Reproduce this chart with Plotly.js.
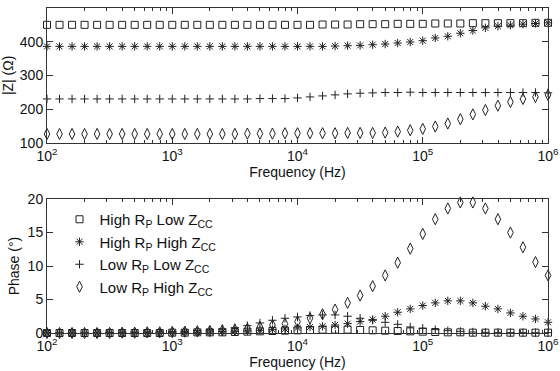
<!DOCTYPE html>
<html>
<head>
<meta charset="utf-8">
<script src="https://cdn.plot.ly/plotly-3.0.1.min.js"></script>
<style>html,body{margin:0;padding:0;background:#fff;}#chart{width:560px;height:371px;}</style>
</head>
<body>
<div id="chart"></div>
<script>
// Frequencies (Hz), 10 points per decade
const freq = [100, 125.9, 158.5, 199.5, 251.2, 316.2, 398.1, 501.2, 631.0, 794.3,
  1000, 1259, 1585, 1995, 2512, 3162, 3981, 5012, 6310, 7943,
  10000, 12589, 15849, 19953, 25119, 31623, 39811, 50119, 63096, 79433,
  100000, 125893, 158489, 199526, 251189, 316228, 398107, 501187, 630957, 794328,
  1000000];

const seriesNames = [
  'High R<sub>P</sub> Low Z<sub>CC</sub>',
  'High R<sub>P</sub> High Z<sub>CC</sub>',
  'Low R<sub>P</sub> Low Z<sub>CC</sub>',
  'Low R<sub>P</sub> High Z<sub>CC</sub>'
];

// |Z| (Ohm)
const magHighRpLowZ = [450,450,450,450,450,450,450,450,450,450,
  450,450,450,450,450,450,450,450,450,450,
  450,450,451,451,451,452,452,452,453,453,
  453,454,454,454,455,455,455,455,455,456,456];
const magHighRpHighZ = [386,386,386,386,386,386,386,386,386,386,
  386,386,386,386,386,386,386,386,386,386,
  386,386,386,387,388,389,391,393,396,399,
  403,411,416,425,433,441,446,449,452,454,456];
const magLowRpLowZ = [230,230,230,230,230,230,230,230,230,230,
  230,230,230,230,230,230,230,231,231,231,
  233,236,239,242,245,247,248,249,249,250,
  249,249,249,249,249,249,249,249,249,249,248];
const magLowRpHighZ = [126,126,126,126,126,126,126,126,126,126,
  126,126,126,126,126,126,127,127,127,128,
  128,128,128,128,129,129,129,130,133,137,
  141,148,157,170,184,197,210,221,230,236,242];

// Phase (deg)
const phHighRpLowZ = [0,0,0,0,0,0,0,0,0,0,
  0.05,0.05,0.1,0.1,0.1,0.15,0.2,0.25,0.3,0.35,
  0.4,0.45,0.5,0.5,0.5,0.45,0.4,0.35,0.3,0.25,
  0.2,0.15,0.1,0.1,0.05,0.05,0.05,0.05,0.05,0.05,0.05];
const phHighRpHighZ = [0,0,0,0,0,0,0,0,0,0,
  0.05,0.1,0.1,0.15,0.2,0.25,0.3,0.4,0.5,0.6,
  0.75,0.9,1.0,1.2,1.4,1.7,2.0,2.5,3.1,3.6,
  4.1,4.5,4.8,4.8,4.5,4.0,3.6,3.0,2.5,2.1,1.6];
const phLowRpLowZ = [0,0,0,0,0,0.05,0.05,0.1,0.1,0.15,
  0.2,0.25,0.35,0.45,0.6,0.8,1.1,1.5,1.9,2.2,
  2.4,2.6,2.7,2.7,2.5,2.2,1.9,1.6,1.3,0.9,
  0.7,0.5,0.35,0.25,0.15,0.1,0.1,0.05,0.05,0.05,0.05];
const phLowRpHighZ = [0,0,0,0,0,0,0.05,0.05,0.1,0.1,
  0.15,0.2,0.25,0.3,0.4,0.5,0.65,0.9,1.2,1.4,
  1.7,2.2,2.8,3.5,4.5,5.6,7.0,8.6,10.5,12.6,
  14.8,17.0,18.6,19.5,19.5,18.6,17.0,15.0,12.8,10.6,8.6];

const xTickVals = [100, 1000, 10000, 100000, 1000000];
const xTickText = ['10<sup>2</sup>','10<sup>3</sup>','10<sup>4</sup>','10<sup>5</sup>','10<sup>6</sup>'];

const symbols = ['square-open','asterisk-open','cross-thin-open','diamond-tall-open'];
const sizes = [7, 7, 6, 8];
const mags = [magHighRpLowZ, magHighRpHighZ, magLowRpLowZ, magLowRpHighZ];
const phases = [phHighRpLowZ, phHighRpHighZ, phLowRpLowZ, phLowRpHighZ];
const col = '#222';

const traces = [];
for (let k = 0; k < 4; k++) {
  traces.push({x: freq, y: mags[k], mode: 'markers', type: 'scatter', xaxis: 'x', yaxis: 'y',
    showlegend: false, cliponaxis: false, name: seriesNames[k],
    marker: {symbol: symbols[k], size: sizes[k], color: col, line: {color: col, width: 1}}});
}
for (let k = 0; k < 4; k++) {
  traces.push({x: freq, y: phases[k], mode: 'markers', type: 'scatter', xaxis: 'x2', yaxis: 'y2',
    showlegend: true, cliponaxis: false, name: seriesNames[k],
    marker: {symbol: symbols[k], size: sizes[k], color: col, line: {color: col, width: 1}}});
}

const fnt = {family: 'Liberation Sans, Arial, sans-serif', size: 14, color: '#111'};
const xBase = {type: 'log', range: [2, 6], tickvals: xTickVals, ticktext: xTickText,
  ticks: 'inside', ticklen: 6, tickcolor: '#333', showline: true, linecolor: '#333', linewidth: 1,
  mirror: 'ticks', showgrid: false, zeroline: false, tickfont: fnt, ticklabelstandoff: 0,
  minor: {ticks: 'inside', ticklen: 3, tickcolor: '#333', dtick: 'D1', showgrid: false}};
const yBase = {ticks: 'inside', ticklen: 6, tickcolor: '#333', showline: true, linecolor: '#333', linewidth: 1,
  mirror: 'ticks', showgrid: false, zeroline: false, tickfont: fnt};

const layout = {
  width: 560, height: 371,
  margin: {l: 47, r: 12, t: 8, b: 38},
  paper_bgcolor: '#fff', plot_bgcolor: '#fff',
  font: fnt,
  showlegend: true,
  xaxis: Object.assign({}, xBase, {anchor: 'y', title: {text: 'Frequency (Hz)', font: fnt, standoff: 3}}),
  yaxis: Object.assign({}, yBase, {domain: [0.5855, 1], range: [100, 500], dtick: 100, anchor: 'x',
    title: {text: '|Z| (Ω)', font: fnt, standoff: 4}}),
  xaxis2: Object.assign({}, xBase, {anchor: 'y2', title: {text: 'Frequency (Hz)', font: fnt, standoff: 3}}),
  yaxis2: Object.assign({}, yBase, {domain: [0, 0.412], range: [0, 20], dtick: 5, anchor: 'x2',
    title: {text: 'Phase (°)', font: fnt, standoff: 4}}),
  legend: {x: 0.025, y: 0.40, xanchor: 'left', yanchor: 'top', bgcolor: 'rgba(0,0,0,0)',
    font: {family: fnt.family, size: 15, color: '#111'}, borderwidth: 0, itemwidth: 30}
};

Plotly.newPlot('chart', traces, layout, {displayModeBar: false, staticPlot: true});
</script>
</body>
</html>
